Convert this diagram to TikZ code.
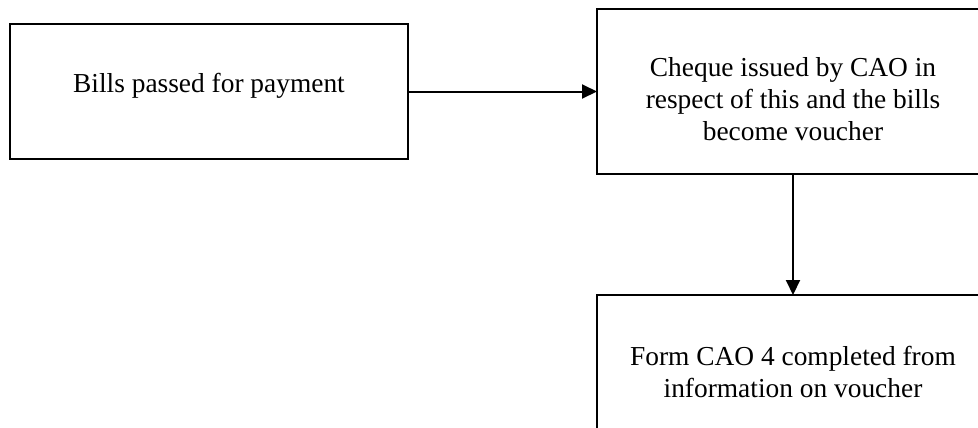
\documentclass[tikz,border=0pt]{standalone}
\usepackage{fontspec}
\setmainfont{Liberation Serif}
\usetikzlibrary{arrows.meta}
\begin{document}
\begin{tikzpicture}[x=1bp,y=-1bp,
  stepbox/.style={draw, line width=2bp, inner sep=0pt, outer sep=0pt},
  label/.style={inner sep=0pt, align=center, font=\fontsize{27.5}{31.7}\selectfont},
  flow/.style={line width=2bp, -{Triangle[length=15bp,width=14bp]}}]
  \clip (0,0) rectangle (978,427);
  % boxes
  \node[stepbox, minimum width=398bp, minimum height=135bp] (b1) at (209,91.5) {};
  \node[stepbox, minimum width=392bp, minimum height=165bp] (b2) at (793,91.5) {};
  \node[stepbox, minimum width=392bp, minimum height=165bp] (b3) at (793,377.5) {};
  % texts (base anchor sits on the last line)
  \node[label, anchor=base] (t1) at (209,92) {Bills passed for payment};
  \node[label, anchor=base] (t2) at (793,140) {Cheque issued by CAO in\\respect of this and the bills\\become voucher};
  \node[label, anchor=base] (t3) at (793,397) {Form CAO 4 completed from\\information on voucher};
  % connectors
  \draw[flow] (b1.east) -- (b1.east -| b2.west);
  \draw[flow] (b2.south) -- (b3.north);
\end{tikzpicture}
\end{document}
